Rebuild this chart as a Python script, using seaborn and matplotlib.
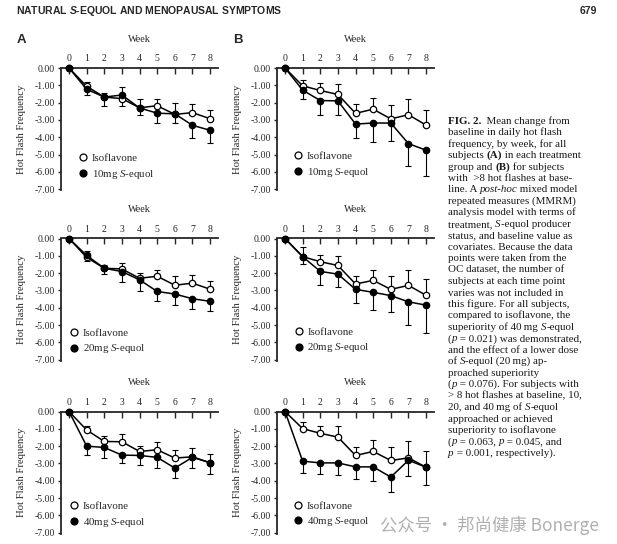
import numpy as np
import pandas as pd
import matplotlib
matplotlib.use("Agg")
import matplotlib.pyplot as plt
from matplotlib.lines import Line2D
import seaborn as sns

# ---------------- data ----------------
weeks = [0, 1, 2, 3, 4, 5, 6, 7, 8]
xtick_labels = ["0", "1", "2", "3", "4", "5", "6", "7", "8"]
ytick_values = [0, -1, -2, -3, -4, -5, -6, -7]
ytick_labels = ["0.00", "-1.00", "-2.00", "-3.00", "-4.00", "-5.00", "-6.00", "-7.00"]

iso_label = "Isoflavone"
seq_labels = ["10mg $\\it{S}$-equol", "20mg $\\it{S}$-equol", "40mg $\\it{S}$-equol"]

# Panel A: all subjects (isoflavone error drawn upward, S-equol error drawn downward)
a_iso = [
    [0, -1.06, -1.68, -1.77, -2.30, -2.18, -2.68, -2.58, -2.93],
    [0, -1.09, -1.72, -1.76, -2.30, -2.18, -2.70, -2.58, -2.93],
    [0, -1.07, -1.73, -1.75, -2.31, -2.21, -2.69, -2.62, -2.96],
]
a_iso_err = [
    [0, 0.25, 0.23, 0.67, 0.53, 0.40, 0.63, 0.51, 0.49],
    [0, 0.36, 0.19, 0.36, 0.33, 0.36, 0.54, 0.48, 0.48],
    [0, 0.24, 0.29, 0.44, 0.33, 0.46, 0.48, 0.50, 0.50],
]
a_seq = [
    [0, -1.23, -1.68, -1.56, -2.31, -2.61, -2.65, -3.31, -3.60],
    [0, -0.98, -1.72, -1.91, -2.39, -3.06, -3.21, -3.48, -3.63],
    [0, -2.00, -2.08, -2.52, -2.54, -2.65, -3.27, -2.65, -2.96],
]
a_seq_err = [
    [0, 0.35, 0.50, 0.64, 0.43, 0.59, 0.52, 0.76, 0.76],
    [0, 0.30, 0.35, 0.63, 0.67, 0.57, 0.61, 0.57, 0.57],
    [0, 0.50, 0.61, 0.46, 0.54, 0.62, 0.60, 0.62, 0.66],
]

# Panel B: subjects with >8 hot flashes at baseline
b_iso = [
    [0, -1.03, -1.30, -1.53, -2.62, -2.38, -2.94, -2.70, -3.30],
    [0, -1.05, -1.34, -1.56, -2.63, -2.42, -2.94, -2.71, -3.28],
    [0, -0.99, -1.26, -1.48, -2.54, -2.31, -2.83, -2.68, -3.22],
]
b_iso_err = [
    [0, 0.35, 0.43, 0.62, 0.53, 0.64, 0.81, 0.88, 0.90],
    [0, 0.57, 0.39, 0.57, 0.47, 0.61, 0.80, 0.90, 0.95],
    [0, 0.39, 0.43, 0.65, 0.50, 0.64, 0.77, 0.97, 0.93],
]
b_seq = [
    [0, -1.28, -1.88, -1.90, -3.24, -3.18, -3.18, -4.37, -4.75],
    [0, -1.05, -1.90, -2.06, -2.94, -3.11, -3.30, -3.66, -3.85],
    [0, -2.87, -2.97, -2.97, -3.20, -3.20, -3.79, -2.82, -3.22],
]
b_seq_err = [
    [0, 0.50, 0.83, 0.81, 0.83, 1.08, 1.04, 1.29, 1.51],
    [0, 0.42, 0.77, 0.76, 0.78, 1.05, 0.95, 1.36, 1.60],
    [0, 0.68, 0.64, 0.70, 0.70, 0.84, 0.89, 0.89, 1.01],
]

header_left = "NATURAL $\\mathsf{S}$-EQUOL AND MENOPAUSAL SYMPTOMS"
header_right = "679"
watermark = "公众号 · 邦尚健康 Bonerge"

# caption: segments separated by '|', prefix 'b:' bold, 'i:' italic
caption_lines = [
    "b:FIG. 2.|  Mean change from",
    "baseline in daily hot flash",
    "frequency, by week, for all",
    "subjects |b:(A)| in each treatment",
    "group and |b:(B)| for subjects",
    "with  >8 hot flashes at base-",
    "line. A |i:post-hoc| mixed model",
    "repeated measures (MMRM)",
    "analysis model with terms of",
    "treatment, |i:S|-equol producer",
    "status, and baseline value as",
    "covariates. Because the data",
    "points were taken from the",
    "OC dataset, the number of",
    "subjects at each time point",
    "varies was not included in",
    "this figure. For all subjects,",
    "compared to isoflavone, the",
    "superiority of 40\u2009mg |i:S|-equol",
    "(|i:p| = 0.021) was demonstrated,",
    "and the effect of a lower dose",
    "of |i:S|-equol (20\u2009mg) ap-",
    "proached superiority",
    "(|i:p| = 0.076). For subjects with",
    "> 8 hot flashes at baseline, 10,",
    "20, and 40\u2009mg of |i:S|-equol",
    "approached or achieved",
    "superiority to isoflavone",
    "(|i:p| = 0.063, |i:p| = 0.045, and",
    "|i:p| = 0.001, respectively).",
]

# ---------------- style ----------------
sns.set_style("ticks")
plt.rcParams["font.family"] = ["Liberation Serif", "DejaVu Serif"]
plt.rcParams["mathtext.fontset"] = "custom"
plt.rcParams["mathtext.rm"] = "Liberation Serif"
plt.rcParams["mathtext.it"] = "Liberation Serif:italic"
plt.rcParams["mathtext.bf"] = "Liberation Serif:bold"
plt.rcParams["mathtext.sf"] = "Liberation Sans:italic:bold"

W, H = 617, 544
fig = plt.figure(figsize=(W / 100, H / 100), dpi=100)
fig.patch.set_facecolor("white")

col_left = [61, 277]
row_top = [68, 238.5, 411.5]
ax_w, ax_h = 157, 122
legend_anchor = {
    (0, 0): (0.106, 0.299), (0, 1): (0.049, 0.265), (0, 2): (0.049, 0.262),
    (1, 0): (0.100, 0.316), (1, 1): (0.104, 0.273), (1, 2): (0.100, 0.266),
}


def draw_panel(ax, iso, iso_err, seq, seq_err, seq_label, anchor):
    n = len(weeks)
    zeros = np.zeros(n)
    df = pd.DataFrame({
        "week": weeks * 2,
        "value": iso + seq,
        "group": [iso_label] * n + [seq_label] * n,
    })
    ax.errorbar(weeks, iso, yerr=[zeros, iso_err], fmt="none", ecolor="black",
                elinewidth=0.8, capsize=2.2, capthick=0.8, zorder=1, clip_on=False)
    ax.errorbar(weeks, seq, yerr=[seq_err, zeros], fmt="none", ecolor="black",
                elinewidth=0.8, capsize=2.2, capthick=0.8, zorder=1, clip_on=False)
    sns.lineplot(data=df[df["group"] == iso_label], x="week", y="value", ax=ax,
                 color="black", marker="o", markersize=4.6, markerfacecolor="white",
                 markeredgecolor="black", markeredgewidth=0.9, linewidth=1.1,
                 errorbar=None, legend=False, zorder=3, clip_on=False)
    sns.lineplot(data=df[df["group"] == seq_label], x="week", y="value", ax=ax,
                 color="black", marker="o", markersize=4.6, markerfacecolor="black",
                 markeredgecolor="black", markeredgewidth=0.9, linewidth=1.1,
                 errorbar=None, legend=False, zorder=4, clip_on=False)

    ax.set_xlim(-0.455, 8.45)
    ax.set_ylim(-7.05, 0)
    ax.xaxis.tick_top()
    ax.xaxis.set_label_position("top")
    ax.set_xticks(weeks)
    ax.set_xticklabels(xtick_labels)
    ax.set_yticks(ytick_values)
    ax.set_yticklabels(ytick_labels)
    ax.set_xlabel("Week", fontsize=7.4, labelpad=9)
    ax.set_ylabel("Hot Flash Frequency", fontsize=7.7, labelpad=6)
    ax.tick_params(axis="x", direction="in", length=4, width=1.0, pad=3.5, labelsize=7.0)
    ax.tick_params(axis="y", direction="out", length=2.5, width=1.0, pad=2, labelsize=7.0)
    for s in ["bottom", "right"]:
        ax.spines[s].set_visible(False)
    for s in ["top", "left"]:
        ax.spines[s].set_linewidth(1.3)
    ax.set_facecolor("none")

    handles = [
        Line2D([], [], linestyle="none", marker="o", markersize=5.0,
               markerfacecolor="white", markeredgecolor="black", markeredgewidth=0.9),
        Line2D([], [], linestyle="none", marker="o", markersize=5.0,
               markerfacecolor="black", markeredgecolor="black", markeredgewidth=0.9),
    ]
    ax.legend(handles, [iso_label, seq_label], loc="upper left", bbox_to_anchor=anchor,
              frameon=False, fontsize=7.8, handlelength=1.0, handletextpad=0.3,
              labelspacing=0.42, borderpad=0, borderaxespad=0)


panels = [(a_iso, a_iso_err, a_seq, a_seq_err), (b_iso, b_iso_err, b_seq, b_seq_err)]
for c in range(2):
    iso_s, iso_e, seq_s, seq_e = panels[c]
    for r in range(3):
        ax = fig.add_axes([col_left[c] / W, 1 - (row_top[r] + ax_h) / H, ax_w / W, ax_h / H])
        draw_panel(ax, iso_s[r], iso_e[r], seq_s[r], seq_e[r], seq_labels[r], legend_anchor[(c, r)])

# header and panel letters
fig.text(16 / W, 1 - 11 / H, header_left, family="Liberation Sans", weight="bold",
         fontsize=7.5, ha="left", va="center")
fig.text(597 / W, 1 - 11 / H, header_right, family="Liberation Sans", weight="bold",
         fontsize=7.5, ha="right", va="center")
fig.text(17 / W, 1 - 40 / H, "A", family="Liberation Sans", weight="bold",
         fontsize=9.5, ha="left", va="center")
fig.text(233 / W, 1 - 40 / H, "B", family="Liberation Sans", weight="bold",
         fontsize=9.5, ha="left", va="center")

# caption, drawn segment by segment
renderer = fig.canvas.get_renderer()
cap_size = 7.9
for i, line in enumerate(caption_lines):
    yb = 1 - (120.5 + i * 11.45 + 3.3) / H
    x_px = 448.0
    for seg in line.split("|"):
        if seg == "":
            continue
        style, weight, txt = "normal", "normal", seg
        if seg.startswith("b:"):
            weight, txt = "bold", seg[2:]
        elif seg.startswith("i:"):
            style, txt = "italic", seg[2:]
        t = fig.text(x_px / W, yb, txt, fontsize=cap_size, ha="left", va="baseline",
                     color="#1a1a1a", fontstyle=style, fontweight=weight,
                     family=["Liberation Serif", "DejaVu Serif"])
        x_px += t.get_window_extent(renderer).width

# watermark
fig.text(380 / W, 1 - 525 / H, watermark, family=["Noto Sans CJK SC", "DejaVu Sans"],
         fontsize=12.5, color="#a8a8a8", alpha=0.9, ha="left", va="center")

fig.savefig("out.png", dpi=100, facecolor="white")
